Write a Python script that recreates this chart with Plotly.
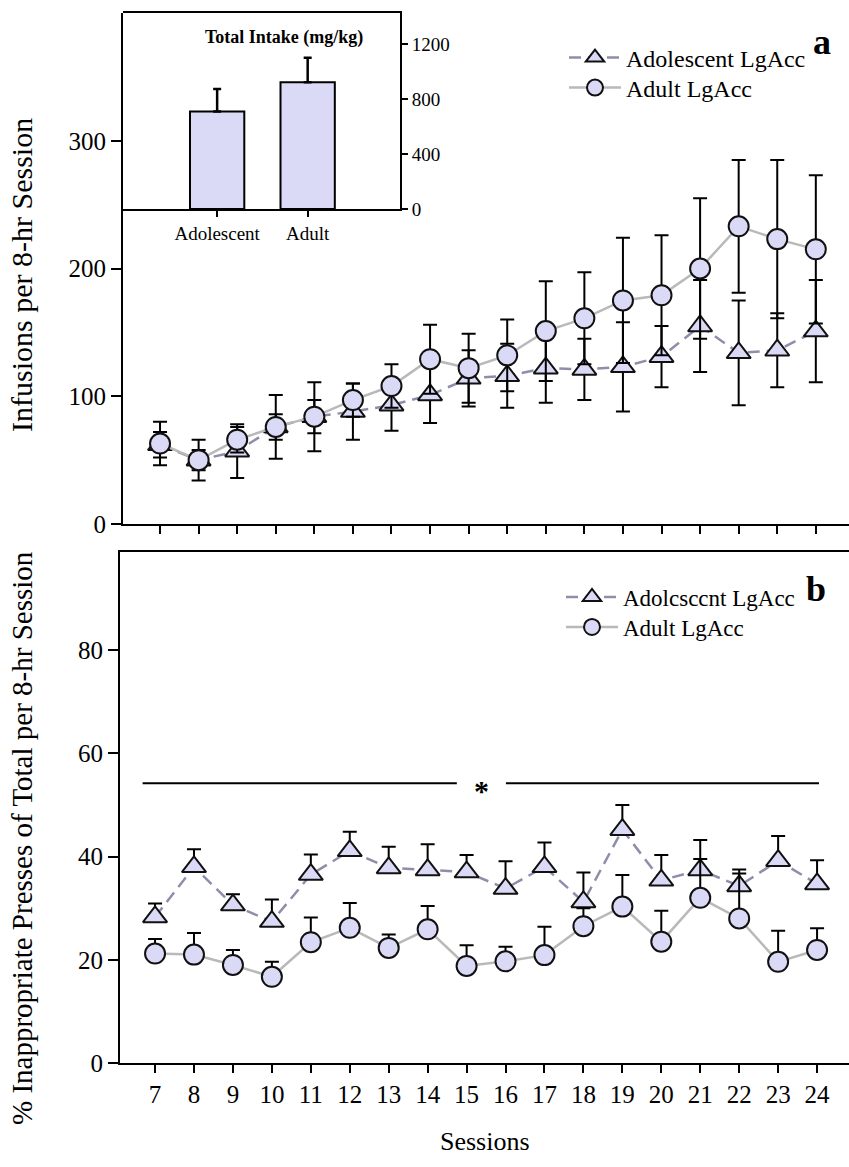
import plotly.graph_objects as go

# ---------------- data ----------------
sessions = list(range(7, 25))

# Panel a: infusions per 8-hr session
adol_inf = [62, 50, 57, 76, 84, 88, 93, 101, 114, 116, 122, 121, 123, 131, 155, 134, 136, 151]
adol_inf_sem = [10, 8, 21, 10, 13, 22, 20, 22, 22, 25, 27, 24, 35, 24, 36, 41, 29, 40]
adult_inf = [63, 50, 66, 76, 84, 97, 108, 129, 122, 132, 151, 161, 175, 179, 200, 233, 223, 215]
adult_inf_sem = [17, 16, 10, 25, 27, 13, 17, 27, 27, 28, 39, 36, 49, 47, 55, 52, 62, 58]

# Inset: total intake (mg/kg)
groups = ["Adolescent", "Adult"]
intake = [708, 921]
intake_sem = [165, 179]

# Panel b: % inappropriate presses
adol_pct = [28.3, 38.0, 30.6, 27.4, 36.5, 41.1, 37.8, 37.4, 37.0, 33.8, 38.0, 31.2, 45.2, 35.4, 37.4, 34.3, 39.2, 34.7]
adol_pct_sem = [2.6, 3.4, 2.1, 4.3, 3.9, 3.7, 4.1, 5.0, 3.3, 5.3, 4.7, 5.7, 4.8, 4.9, 5.8, 3.2, 4.8, 4.6]
adult_pct = [21.2, 21.0, 19.0, 16.7, 23.4, 26.2, 22.3, 25.9, 18.8, 19.7, 20.9, 26.5, 30.3, 23.5, 32.0, 28.0, 19.6, 21.9]
adult_pct_sem = [2.8, 4.2, 2.9, 2.9, 4.8, 4.8, 2.6, 4.5, 4.0, 2.8, 5.5, 3.5, 6.1, 6.0, 7.5, 8.7, 6.0, 4.2]

inf_ticks = [0, 100, 200, 300]
pct_ticks = [0, 20, 40, 60, 80]
intake_ticks = [0, 400, 800, 1200]

# ---------------- style ----------------
W, H = 849, 1167
FONT = "Liberation Serif"
FILL = "#dadaf7"
ADOL_LINE = "#8e8eab"
ADULT_LINE = "#b9b9b9"

def px_x(p):
    return p / W

def px_y(p):
    return 1 - p / H

fig = go.Figure()

def add_series(x, y, err, name, symbol, color, dash, xa, ya, legend, one_sided=False):
    ey = dict(type="data", array=err, color="black", thickness=2, width=7, visible=True)
    if one_sided:
        ey.update(symmetric=False, arrayminus=[0] * len(err))
    fig.add_trace(go.Scatter(
        x=x, y=y, name=name, mode="lines+markers",
        line=dict(color=color, width=2.5, dash=dash),
        marker=dict(symbol=symbol, size=20 if symbol == "circle" else 21, color=FILL,
                    line=dict(color="#111111", width=2)),
        error_y=ey, xaxis=xa, yaxis=ya, legend=legend,
    ))

# Panel a
add_series(sessions, adol_inf, adol_inf_sem, "Adolescent LgAcc", "triangle-up", ADOL_LINE, "12px,7px", "x", "y", "legend")
add_series(sessions, adult_inf, adult_inf_sem, "Adult LgAcc", "circle", ADULT_LINE, "solid", "x", "y", "legend2")

# Panel b
add_series(sessions, adol_pct, adol_pct_sem, "Adolcsccnt LgAcc", "triangle-up", ADOL_LINE, "12px,7px", "x2", "y2", "legend3", one_sided=True)
add_series(sessions, adult_pct, adult_pct_sem, "Adult LgAcc", "circle", ADULT_LINE, "solid", "x2", "y2", "legend4", one_sided=True)

# Inset bars
fig.add_trace(go.Bar(
    x=groups, y=intake, width=0.6, marker=dict(color=FILL, line=dict(color="black", width=2)),
    error_y=dict(type="data", array=intake_sem, symmetric=False, arrayminus=[0, 0],
                 color="black", thickness=2.5, width=4),
    xaxis="x3", yaxis="y3", showlegend=False,
))

axis_common = dict(showline=True, linecolor="black", linewidth=2, ticks="outside",
                   tickcolor="black", tickwidth=2, showgrid=False, zeroline=False,
                   automargin=False, tickfont=dict(family=FONT, size=25, color="black"))
inset_common = dict(showline=True, linecolor="black", linewidth=2, ticks="outside",
                    ticklen=6, tickwidth=2, tickcolor="black", showgrid=False, zeroline=False,
                    automargin=False, tickfont=dict(family=FONT, size=19, color="black"))

def leg(xp, yp, size):
    return dict(x=px_x(xp), y=px_y(yp), xanchor="left", yanchor="middle",
                font=dict(family=FONT, size=size, color="black"), itemwidth=52,
                bgcolor="rgba(0,0,0,0)", borderwidth=0)

fig.update_layout(
    width=W, height=H, margin=dict(l=0, r=0, t=0, b=0, autoexpand=False),
    paper_bgcolor="white", plot_bgcolor="rgba(0,0,0,0)",
    font=dict(family=FONT, color="black"),
    xaxis=dict(domain=[px_x(123), 1], anchor="y", range=[6.04, 24.86],
               tickvals=sessions, showticklabels=False, ticklen=8, **axis_common),
    yaxis=dict(domain=[px_y(524), px_y(13)], anchor="x", range=[0, 400],
               tickvals=inf_ticks, ticklen=10, **axis_common),
    xaxis2=dict(domain=[px_x(120), 1], anchor="y2", range=[6.1, 24.82], mirror=True,
                tickvals=sessions, ticklen=8, **axis_common),
    yaxis2=dict(domain=[px_y(1063), px_y(552)], anchor="x2", range=[0, 99],
                tickvals=pct_ticks, ticklen=10, **axis_common),
    xaxis3=dict(domain=[px_x(123), px_x(400)], anchor="y3", type="category",
                range=[-1.04, 2.02], mirror=True, **inset_common),
    yaxis3=dict(domain=[px_y(209), px_y(13)], anchor="x3", side="right", range=[0, 1425],
                tickvals=intake_ticks, **inset_common),
    legend=leg(564, 58, 24),
    legend2=leg(564, 88, 24),
    legend3=leg(561, 597, 23),
    legend4=leg(561, 627, 23),
)

# Significance line with asterisk (panel b)
for x0, x1 in [(6.68, 14.75), (16.01, 24.05)]:
    fig.add_shape(type="line", xref="x2", yref="y2", x0=x0, x1=x1, y0=54.2, y1=54.2,
                  line=dict(color="black", width=2))
fig.add_annotation(xref="x2", yref="y2", x=15.38, y=54.2, text="<b>*</b>", showarrow=False,
                   font=dict(family=FONT, size=30, color="black"), yshift=-7)

# Titles & panel letters
ann = [
    dict(x=px_x(22), y=px_y(275), text="Infusions per 8-hr Session", textangle=-90, size=30, b=False),
    dict(x=px_x(22), y=px_y(838), text="% Inappropriate Presses of Total per 8-hr Session", textangle=-90, size=29, b=False),
    dict(x=px_x(485), y=px_y(1141), text="Sessions", textangle=0, size=26, b=False),
    dict(x=px_x(284), y=px_y(37), text="Total Intake (mg/kg)", textangle=0, size=18, b=True),
    dict(x=px_x(822), y=px_y(42), text="a", textangle=0, size=36, b=True),
    dict(x=px_x(816), y=px_y(589), text="b", textangle=0, size=36, b=True),
]
for a in ann:
    txt = "<b>%s</b>" % a["text"] if a["b"] else a["text"]
    fig.add_annotation(xref="paper", yref="paper", x=a["x"], y=a["y"], text=txt,
                       textangle=a["textangle"], showarrow=False, xanchor="center", yanchor="middle",
                       font=dict(family=FONT, size=a["size"], color="black"))

fig.write_html("out.html", config={"displayModeBar": False},
               post_script="document.body.style.margin='0';")
